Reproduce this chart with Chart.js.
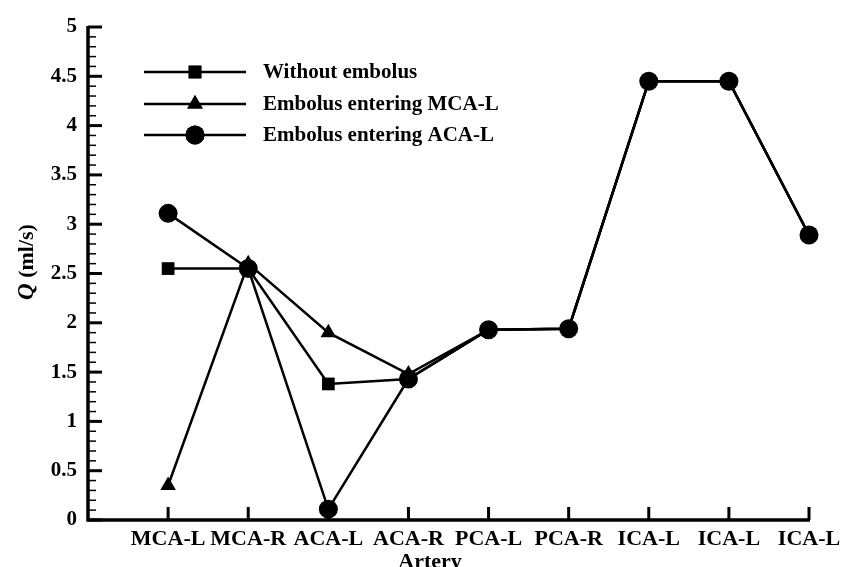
<!DOCTYPE html>
<html>
<head>
<meta charset="utf-8">
<script src="https://cdn.jsdelivr.net/npm/chart.js@4.4.1/dist/chart.umd.min.js"></script>
<style>
  html, body { margin: 0; padding: 0; background: #fff; }
  #wrap { width: 847px; height: 567px; position: relative; }
</style>
</head>
<body>
<div id="wrap"><canvas id="chart" width="847" height="567"></canvas></div>
<script>
// **********************************************
// Data

const arteries = ['MCA-L', 'MCA-R', 'ACA-L', 'ACA-R', 'PCA-L', 'PCA-R', 'ICA-L', 'ICA-L', 'ICA-L'];

const withoutEmbolus = [2.55, 2.55, 1.38, 1.43, 1.93, 1.94, 4.45, 4.45, 2.89];
const embolusMCAL    = [0.35, 2.60, 1.90, 1.48, 1.93, 1.94, 4.45, 4.45, 2.89];
const embolusACAL    = [3.11, 2.55, 0.11, 1.43, 1.93, 1.94, 4.45, 4.45, 2.89];

const seriesNames = ['Without embolus', 'Embolus entering MCA-L', 'Embolus entering ACA-L'];
const seriesMarkers = ['rect', 'triangle', 'circle'];
const markerSizes = [9, 9, 9.5];

const yTicks = [0, 0.5, 1, 1.5, 2, 2.5, 3, 3.5, 4, 4.5, 5];

const FONT = '"Liberation Serif", "Times New Roman", serif';


// turn a list of values into {x, y} points on category positions 1..n
function toPoints(values) {
    return values.map((v, i) => ({ x: i + 1, y: v }));
}


// **********************************************
// Plugin: inward ticks, legend with line-through markers, axis titles

const decorations = {
    id: 'decorations',
    afterDraw(chart) {
        const ctx = chart.ctx;
        const xs = chart.scales.x;
        const ys = chart.scales.y;
        const left = xs.getPixelForValue(0);
        const right = xs.getPixelForValue(arteries.length);
        const bottom = ys.getPixelForValue(0);
        const top = ys.getPixelForValue(5);

        ctx.save();
        ctx.strokeStyle = '#000';
        ctx.lineCap = 'butt';

        // axis lines
        ctx.lineWidth = 3.5;
        ctx.beginPath();
        ctx.moveTo(left, top - 1);
        ctx.lineTo(left, bottom);
        ctx.lineTo(right + 1, bottom);
        ctx.stroke();

        // y ticks: major every 0.5, minor every 0.1
        for (let k = 0; k <= 50; k++) {
            const py = ys.getPixelForValue(k / 10);
            const major = k % 5 === 0;
            ctx.lineWidth = major ? 3 : 1.5;
            ctx.beginPath();
            ctx.moveTo(left, py);
            ctx.lineTo(left + (major ? 14 : 8), py);
            ctx.stroke();
        }

        // x ticks at categories
        ctx.lineWidth = 3;
        for (let i = 1; i <= arteries.length; i++) {
            const px = xs.getPixelForValue(i);
            ctx.beginPath();
            ctx.moveTo(px, bottom);
            ctx.lineTo(px, bottom - 13);
            ctx.stroke();
        }

        // legend
        const lx0 = 144, lx1 = 246, mx = 195, textX = 263;
        const rows = [72, 104, 135];
        ctx.font = 'bold 21px ' + FONT;
        ctx.textBaseline = 'middle';
        ctx.fillStyle = '#000';
        seriesNames.forEach((name, i) => {
            const y = rows[i];
            ctx.lineWidth = 2.5;
            ctx.beginPath();
            ctx.moveTo(lx0, y);
            ctx.lineTo(lx1, y);
            ctx.stroke();
            Chart.helpers.drawPoint(ctx, {
                pointStyle: seriesMarkers[i],
                radius: markerSizes[i],
                rotation: 0,
                borderWidth: 0
            }, mx, y);
            ctx.fill();
            ctx.fillText(name, textX, y + 1);
        });

        // x axis title
        ctx.font = 'bold 22px ' + FONT;
        ctx.textAlign = 'center';
        ctx.textBaseline = 'alphabetic';
        ctx.fillText('Artery', 430, 568);

        // y axis title: italic Q then (ml/s)
        ctx.translate(27, 262);
        ctx.rotate(-Math.PI / 2);
        ctx.textAlign = 'left';
        ctx.textBaseline = 'middle';
        ctx.font = 'italic bold 23px ' + FONT;
        const qW = ctx.measureText('Q').width;
        ctx.font = 'bold 22px ' + FONT;
        const restW = ctx.measureText(' (ml/s)').width;
        const start = -(qW + restW) / 2;
        ctx.font = 'italic bold 23px ' + FONT;
        ctx.fillText('Q', start, 0);
        ctx.font = 'bold 22px ' + FONT;
        ctx.fillText(' (ml/s)', start + qW, 0);

        ctx.restore();
    }
};


// **********************************************
// Chart

const ctx = document.getElementById('chart').getContext('2d');

const datasets = [withoutEmbolus, embolusMCAL, embolusACAL].map((vals, i) => ({
    label: seriesNames[i],
    data: toPoints(vals),
    showLine: true,
    clip: false,
    borderColor: '#000',
    backgroundColor: '#000',
    borderWidth: 2.5,
    pointStyle: seriesMarkers[i],
    pointRadius: markerSizes[i],
    pointBorderWidth: 0,
    tension: 0
}));

new Chart(ctx, {
    type: 'scatter',
    data: { datasets: datasets },
    options: {
        responsive: false,
        animation: false,
        layout: { padding: { left: 0, right: 38, top: 27, bottom: 0 } },
        plugins: {
            legend: { display: false },
            tooltip: { enabled: false }
        },
        scales: {
            x: {
                type: 'linear',
                min: 0,
                max: arteries.length,
                afterFit: (scale) => { scale.height = 47; },
                afterBuildTicks: (scale) => {
                    scale.ticks = arteries.map((a, i) => ({ value: i + 1 }));
                },
                grid: { display: false, drawTicks: false },
                border: { display: false },
                ticks: {
                    autoSkip: false,
                    maxRotation: 0,
                    padding: 6,
                    color: '#000',
                    font: { family: FONT, size: 22, weight: 'bold' },
                    callback: (v) => arteries[v - 1] || ''
                }
            },
            y: {
                min: 0,
                max: 5,
                afterFit: (scale) => { scale.width = 88; },
                afterBuildTicks: (scale) => {
                    scale.ticks = yTicks.map(v => ({ value: v }));
                },
                grid: { display: false, drawTicks: false },
                border: { display: false },
                ticks: {
                    padding: 11,
                    color: '#000',
                    font: { family: FONT, size: 21, weight: 'bold' },
                    callback: (v) => String(v)
                }
            }
        }
    },
    plugins: [decorations]
});
</script>
</body>
</html>
